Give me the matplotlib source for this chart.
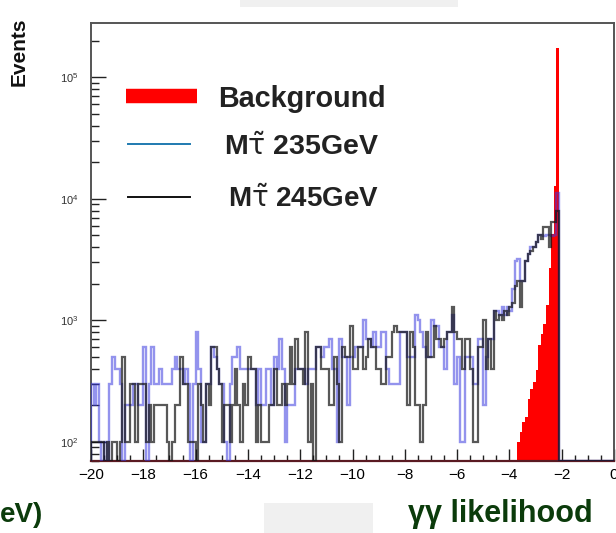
import numpy as np
import matplotlib.pyplot as plt
from matplotlib.lines import Line2D
from matplotlib.patches import Rectangle
from matplotlib.ticker import MultipleLocator, LogLocator, NullFormatter

plt.rcParams['font.family'] = ['Liberation Sans', 'DejaVu Sans']
plt.rcParams['mathtext.fontset'] = 'custom'
plt.rcParams['mathtext.rm'] = 'Liberation Sans'
plt.rcParams['mathtext.it'] = 'Liberation Sans'
plt.rcParams['mathtext.bf'] = 'Liberation Sans:bold'

# binning of the likelihood histograms (200 bins of 0.1)
x_lo, x_hi, n_bins = -20, 0, 200

# signal, M(stau) = 235 GeV  (events per bin, -20 ... 0)
m235 = [300, 200, 300, 100, 0, 100, 0, 300, 500, 400,
        400, 300, 0, 200, 200, 200, 300, 300, 200, 200,
        600, 0, 300, 600, 300, 300, 400, 300, 300, 300,
        300, 400, 500, 400, 400, 300, 400, 300, 0, 300,
        800, 400, 100, 100, 300, 300, 600, 500, 400, 300,
        300, 100, 0, 300, 500, 500, 600, 400, 400, 400,
        400, 400, 400, 200, 400, 200, 200, 400, 400, 200,
        500, 400, 700, 400, 100, 200, 200, 200, 400, 400,
        400, 400, 300, 400, 400, 400, 600, 600, 500, 600,
        600, 700, 400, 400, 100, 700, 500, 500, 200, 500,
        500, 600, 600, 600, 1000, 700, 700, 600, 800, 600,
        600, 800, 800, 400, 300, 300, 300, 300, 800, 800,
        800, 500, 500, 500, 1100, 1000, 800, 600, 500, 500,
        1000, 900, 900, 600, 600, 400, 800, 800, 1100, 300,
        500, 100, 100, 500, 500, 500, 300, 300, 700, 700,
        200, 500, 700, 700, 1200, 1200, 1100, 1300, 1100, 1300,
        1200, 1800, 3100, 3200, 2100, 2100, 3100, 3500, 4000, 4000,
        4400, 5000, 5000, 4900, 5000, 5000, 4900, 5000, 11200, 0,
        0, 0, 0, 0, 0, 0, 0, 0, 0, 0,
        0, 0, 0, 0, 0, 0, 0, 0, 0, 0]

# signal, M(stau) = 245 GeV
m245 = [100, 100, 100, 100, 100, 0, 100, 0, 100, 100,
        0, 100, 500, 100, 100, 300, 300, 100, 300, 300,
        300, 100, 200, 100, 200, 200, 200, 200, 200, 100,
        0, 100, 200, 200, 500, 300, 300, 100, 100, 100,
        0, 300, 200, 100, 300, 200, 600, 600, 400, 300,
        100, 200, 200, 100, 200, 400, 200, 100, 300, 200,
        500, 400, 400, 100, 200, 100, 100, 100, 200, 200,
        400, 200, 200, 300, 200, 300, 600, 300, 700, 400,
        400, 300, 800, 100, 300, 0, 600, 600, 400, 400,
        400, 200, 200, 500, 300, 100, 600, 500, 500, 900,
        400, 400, 600, 600, 400, 500, 700, 600, 600, 400,
        400, 300, 300, 500, 500, 800, 900, 800, 800, 800,
        800, 200, 800, 600, 200, 200, 100, 200, 800, 500,
        500, 900, 700, 700, 600, 700, 800, 800, 1300, 800,
        700, 700, 400, 700, 700, 400, 100, 100, 600, 600,
        1000, 400, 700, 400, 1200, 1000, 1100, 1000, 1200, 1100,
        1300, 1400, 1900, 2100, 1300, 2100, 3100, 3500, 3700, 4000,
        4400, 5000, 4700, 5900, 5900, 4000, 6400, 6500, 7900, 0,
        0, 0, 0, 0, 0, 0, 0, 0, 0, 0,
        0, 0, 0, 0, 0, 0, 0, 0, 0, 0]

# background, only filled between -3.7 and -2.1
bkg_peak = [100, 120, 145, 160, 225, 270, 310, 390,
            625, 775, 935, 1340, 2700, 5100, 12800, 175000]
background = [0] * 163 + bkg_peak + [0] * 21

legend_labels = ['Background', r'M$\tilde{\mathrm{\tau}}$ 235GeV',
                 r'M$\tilde{\mathrm{\tau}}$ 245GeV']

W, H = 616, 533
ymin, ymax = 70, 2.8e5


def fx(p):
    return p / W


def fy(p):
    return 1 - p / H


fig = plt.figure(figsize=(W / 100, H / 100), dpi=100)
ax = fig.add_axes([fx(91), fy(460.7), (614 - 91) / W, (460.7 - 23) / H])

edges = np.linspace(x_lo, x_hi, n_bins + 1)
bkg = np.array(background, dtype=float)
s235 = np.array(m235, dtype=float)
s245 = np.array(m245, dtype=float)

ax.stairs(np.clip(bkg, ymin * 0.5, None), edges, fill=True, color='#ff0000',
          baseline=ymin * 0.5, zorder=2)
ax.stairs(np.clip(s235, ymin, None), edges, color='#3a3adf', alpha=0.55,
          lw=1.7, baseline=ymin, zorder=3)
ax.stairs(np.clip(s245, ymin, None), edges, color='#111111', alpha=0.7,
          lw=1.6, baseline=ymin, zorder=4)

ax.set_xlim(x_lo, x_hi)
ax.set_yscale('log')
ax.set_ylim(ymin, ymax)

ax.xaxis.set_major_locator(MultipleLocator(2))
ax.xaxis.set_minor_locator(MultipleLocator(0.5))
ax.yaxis.set_major_locator(LogLocator(base=10))
ax.yaxis.set_minor_locator(LogLocator(base=10, subs=np.arange(2, 10)))
ax.yaxis.set_minor_formatter(NullFormatter())

ax.tick_params(axis='x', which='major', direction='in', length=8.5, width=1.0,
               color='#222222', labelsize=11, pad=5, top=False)
ax.tick_params(axis='x', which='minor', direction='in', length=4.5, width=1.0,
               color='#222222', top=False)
ax.tick_params(axis='y', which='major', direction='in', length=11, width=1.0,
               color='#222222', labelsize=8, pad=9, right=False)
ax.tick_params(axis='y', which='minor', direction='in', length=6, width=1.0,
               color='#222222', right=False)
for lab in ax.get_yticklabels():
    lab.set_color('#333333')

for side in ['top', 'right', 'left']:
    ax.spines[side].set_color('#555555')
    ax.spines[side].set_linewidth(1.4)
ax.spines['bottom'].set_color('#5a1a22')
ax.spines['bottom'].set_linewidth(1.6)

# legend drawn by hand, like the ROOT TLatex/TLine legend
fig.add_artist(Line2D([fx(126), fx(197)], [fy(95.5), fy(95.5)], color='#ff0000',
                      lw=10.4, solid_capstyle='butt'))
fig.add_artist(Line2D([fx(128), fx(190)], [fy(144), fy(144)], color='#1f7ab0', lw=1.4))
fig.add_artist(Line2D([fx(128), fx(190)], [fy(197.3), fy(197.3)], color='#111111', lw=1.4))
fig.text(fx(218), fy(107.3), legend_labels[0], fontsize=20.7, fontweight='bold',
         color='#222222', va='baseline')
fig.text(fx(224), fy(155), legend_labels[1], fontsize=20.5, fontweight='bold',
         color='#222222', va='baseline', math_fontfamily='dejavusans')
fig.text(fx(228), fy(206.7), legend_labels[2], fontsize=20, fontweight='bold',
         color='#222222', va='baseline', math_fontfamily='dejavusans')

# axis titles (partly cut in the original screenshot)
fig.text(fx(19), fy(52), 'Events', rotation=90, fontsize=15, fontweight='bold',
         color='#111111', ha='center', va='center')
fig.text(fx(43), fy(522), 'eV)', fontsize=20, fontweight='bold', color='#0b3b0b',
         ha='right', va='baseline')
fig.text(fx(500), fy(522), 'γγ likelihood', fontsize=22, fontweight='bold',
         color='#0b3b0b', ha='center', va='baseline')

# light grey screen-capture patches
fig.add_artist(Rectangle((fx(240), fy(7)), (458 - 240) / W, 7 / H,
                         transform=fig.transFigure, color='#f0f0f0', lw=0))
fig.add_artist(Rectangle((fx(264), fy(533)), (373 - 264) / W, 30 / H,
                         transform=fig.transFigure, color='#f0f0f0', lw=0))

fig.savefig('out.png', dpi=100)
